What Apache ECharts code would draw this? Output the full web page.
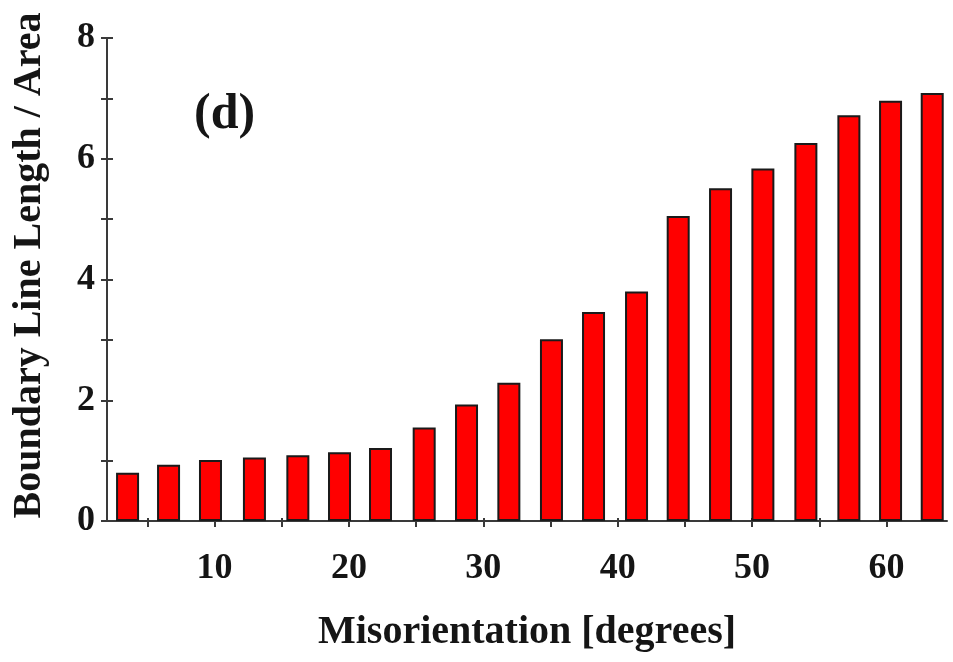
<!DOCTYPE html>
<html>
<head>
<meta charset="utf-8">
<script src="https://cdn.jsdelivr.net/npm/echarts@6/dist/echarts.min.js"></script>
<style>
html,body{margin:0;padding:0;background:#fff;}
#chart{width:953px;height:662px;}
</style>
</head>
<body>
<div id="chart"></div>
<script>
const misorientation = [3.53, 6.58, 9.7, 12.97, 16.2, 19.3, 22.35, 25.6, 28.75, 31.9, 35.07, 38.2, 41.4, 44.5, 47.65, 50.8, 54.0, 57.2, 60.3, 63.4];
const boundaryLength = [0.80, 0.93, 1.01, 1.05, 1.09, 1.14, 1.21, 1.55, 1.93, 2.29, 3.01, 3.46, 3.80, 5.05, 5.51, 5.84, 6.26, 6.72, 6.96, 7.09];
const xTickValues = [5, 10, 15, 20, 25, 30, 35, 40, 45, 50, 55, 60];
const xLabelValues = [10, 20, 30, 40, 50, 60];
const yLabelValues = [0, 2, 4, 6, 8];
const xTitle = 'Misorientation [degrees]';
const yTitle = 'Boundary Line Length / Area';
const panelLabel = '(d)';

const FONT = '"Liberation Serif", "DejaVu Serif", serif';
const TXT = '#151515';
const AX = '#3a3a3a';

const chart = echarts.init(document.getElementById('chart'), null, {renderer: 'canvas'});
chart.setOption({
  backgroundColor: '#ffffff',
  animation: false,
  grid: {left: 107, right: 6, top: 38, bottom: 141, containLabel: false},
  xAxis: [{
    type: 'value', min: 2, max: 64.5,
    name: xTitle, nameLocation: 'middle', nameGap: 92,
    nameTextStyle: {fontFamily: FONT, fontWeight: 'bold', fontSize: 40, color: TXT},
    axisLine: {show: true, onZero: false, lineStyle: {color: AX, width: 2}},
    axisTick: {show: true, customValues: xTickValues, length: 6, lineStyle: {color: AX, width: 2}},
    axisLabel: {show: true, customValues: xLabelValues, margin: 30, fontFamily: FONT, fontWeight: 'bold', fontSize: 36, color: TXT},
    splitLine: {show: false}
  }, {
    type: 'value', min: 2, max: 64.5, position: 'bottom', offset: -3,
    axisLine: {show: false},
    axisTick: {show: true, customValues: xTickValues, length: 9, lineStyle: {color: AX, width: 2}},
    axisLabel: {show: false},
    splitLine: {show: false}
  }],
  yAxis: [{
    type: 'value', min: 0, max: 8, interval: 1,
    name: yTitle, nameLocation: 'middle', nameGap: 57, nameRotate: 90,
    nameTextStyle: {fontFamily: FONT, fontWeight: 'bold', fontSize: 40, color: TXT, padding: [0, 0, 0, 28]},
    axisLine: {show: true, lineStyle: {color: AX, width: 2}},
    axisTick: {show: false},
    axisLabel: {show: true, margin: 12, fontFamily: FONT, fontWeight: 'bold', fontSize: 36, color: TXT,
      formatter: v => yLabelValues.indexOf(v) >= 0 ? String(v) : ''},
    splitLine: {show: false}
  }, {
    type: 'value', min: 0, max: 8, interval: 1, position: 'left', offset: -6,
    axisLine: {show: false},
    axisTick: {show: true, length: 12, lineStyle: {color: AX, width: 2}},
    axisLabel: {show: false},
    splitLine: {show: false}
  }],
  graphic: [{
    type: 'text', left: 194, top: 90,
    style: {text: panelLabel, font: 'bold 50px ' + FONT, fill: TXT}
  }],
  series: [{
    type: 'bar',
    xAxisIndex: 0, yAxisIndex: 0,
    barWidth: 23,
    data: misorientation.map((x, i) => [x, boundaryLength[i]]),
    itemStyle: {color: '#ff0000', borderColor: '#1a1a1a', borderWidth: 2}
  }]
});
</script>
</body>
</html>
